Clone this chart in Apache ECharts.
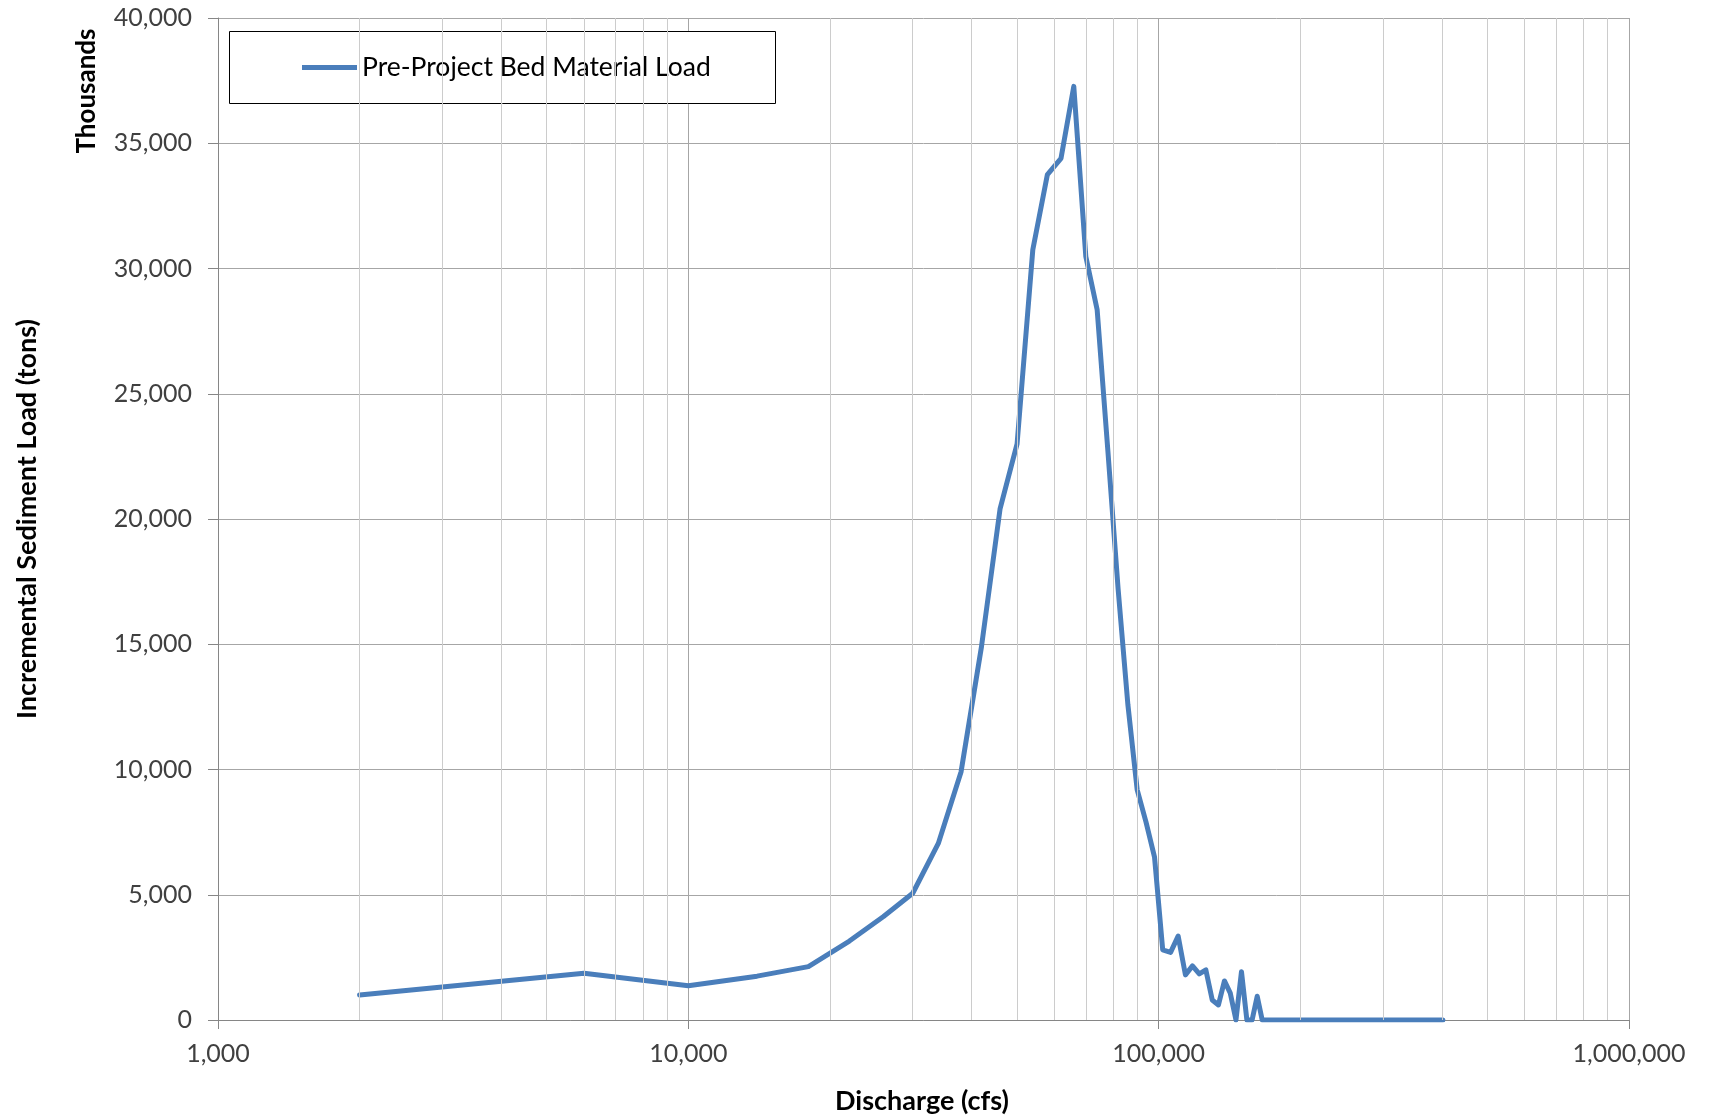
<!DOCTYPE html>
<html>
<head>
<meta charset="utf-8">
<script src="https://cdn.jsdelivr.net/npm/echarts@6/dist/echarts.min.js"></script>
<style>
  html, body { margin: 0; padding: 0; background: #fff; }
  #chart { width: 1709px; height: 1119px; }
</style>
</head>
<body>
<div id="chart"></div>
<script>
// Discharge (cfs)
const discharge = [2000, 6000, 10000, 14000, 18000, 22000, 26000, 30000, 34000, 38000,
  42000, 46000, 50000, 54000, 58000, 62000, 66000, 70000, 74000, 78000,
  82000, 86000, 90000, 94000, 98000, 102000, 106000, 110000, 114000, 118000,
  122000, 126000, 130000, 134000, 138000, 142000, 146000, 150000, 154000, 158000,
  162000, 166000, 170000, 402000];
// Incremental sediment load (thousands of tons)
const load = [1000, 1870, 1370, 1750, 2130, 3150, 4130, 5060, 7050, 9900,
  14900, 20400, 23000, 30750, 33750, 34400, 37270, 30480, 28350, 22700,
  17200, 12600, 9200, 7900, 6500, 2800, 2700, 3350, 1800, 2160,
  1840, 2000, 800, 600, 1560, 1070, 0, 1930, 0, 0,
  950, 0, 0, 0];
const seriesName = 'Pre-Project Bed Material Load';
// Minor gridline positions on the log x axis
const minorTicks = [2000, 3000, 4000, 5000, 6000, 7000, 8000, 9000,
  20000, 30000, 40000, 50000, 60000, 70000, 80000, 90000,
  200000, 300000, 400000, 500000, 600000, 700000, 800000, 900000];
const xMin = 1000, xMax = 1000000;
const yMin = 0, yMax = 40000, yInterval = 5000;

const FONT = 'Lato, "Open Sans", sans-serif';
const fmt = v => Number(v).toLocaleString('en-US');

const chart = echarts.init(document.getElementById('chart'), null, { renderer: 'canvas' });
const points = discharge.map((d, i) => [d, load[i]]);

chart.setOption({
  animation: false,
  backgroundColor: '#fff',
  grid: { left: 218, right: 80, top: 18, bottom: 99, containLabel: false },
  xAxis: {
    type: 'log', logBase: 10, min: xMin, max: xMax,
    axisLine: { show: true, lineStyle: { color: '#868686', width: 1 } },
    axisTick: { show: true, length: 9, lineStyle: { color: '#868686' } },
    axisLabel: { fontFamily: FONT, fontSize: 25, color: '#404040', margin: 21, formatter: fmt },
    splitLine: { show: true, lineStyle: { color: '#a6a6a6', width: 1 } },
    minorTick: { show: false }, minorSplitLine: { show: false }
  },
  yAxis: {
    type: 'value', min: yMin, max: yMax, interval: yInterval,
    axisLine: { show: true, lineStyle: { color: '#868686', width: 1 } },
    axisTick: { show: true, length: 10, lineStyle: { color: '#868686' } },
    axisLabel: { fontFamily: FONT, fontSize: 25, color: '#404040', margin: 26, formatter: fmt },
    splitLine: { show: true, lineStyle: { color: '#a6a6a6', width: 1 } }
  },
  legend: {
    data: [seriesName], left: 302, top: 54, padding: 0,
    icon: 'rect', itemWidth: 55, itemHeight: 5,
    textStyle: { fontFamily: FONT, fontSize: 26.5, color: '#000' },
    selectedMode: false, z: 5
  },
  graphic: [
    { type: 'rect', z: 3, silent: true,
      shape: { x: 229.5, y: 31.5, width: 546, height: 72 },
      style: { fill: '#fff', stroke: '#000', lineWidth: 1 } },
    { type: 'text', x: 27, y: 519, rotation: Math.PI / 2, silent: true,
      style: { text: 'Incremental Sediment Load (tons)', fontFamily: FONT, fontWeight: 'bold',
        fontSize: 27, fill: '#000', align: 'center', verticalAlign: 'middle' } },
    { type: 'text', x: 87, y: 91, rotation: Math.PI / 2, silent: true,
      style: { text: 'Thousands', fontFamily: FONT, fontWeight: 'bold',
        fontSize: 26, fill: '#000', align: 'center', verticalAlign: 'middle' } },
    { type: 'text', x: 922, y: 1101, silent: true,
      style: { text: 'Discharge (cfs)', fontFamily: FONT, fontWeight: 'bold',
        fontSize: 27, fill: '#000', align: 'center', verticalAlign: 'middle' } }
  ],
  series: [
    {
      name: 'minor-grid', type: 'line', data: [], z: 1, silent: true,
      markLine: {
        silent: true, symbol: ['none', 'none'], label: { show: false },
        lineStyle: { color: '#cccccc', width: 1, type: 'solid' },
        emphasis: { disabled: true },
        data: minorTicks.map(v => ({ xAxis: v }))
      }
    },
    {
      name: seriesName, type: 'line', data: points, z: 2,
      showSymbol: false, symbol: 'none', smooth: false,
      lineStyle: { color: '#4a7ebb', width: 5, join: 'round', cap: 'round' },
      itemStyle: { color: '#4a7ebb' }
    }
  ]
});
</script>
</body>
</html>
